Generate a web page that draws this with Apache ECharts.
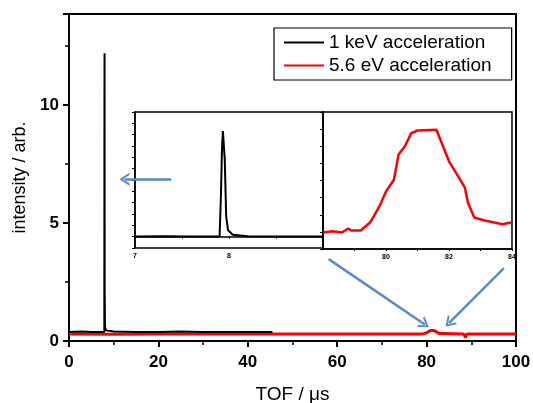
<!DOCTYPE html>
<html><head><meta charset="utf-8">
<script src="https://cdn.jsdelivr.net/npm/echarts@6/dist/echarts.min.js"></script>
<style>html,body{margin:0;padding:0;background:#fff}#c{width:533px;height:403px}</style>
</head><body><div id="c"></div>
<script>
// ---- data ----
const seriesNames = ['1 keV acceleration', '5.6 eV acceleration'];
// main chart: 1 keV (black)
const blackX = [0, 3, 5, 7.9, 7.93, 7.95, 7.98, 8.05, 8.3, 10, 15, 20, 25, 30, 35, 40, 45.5];
const blackY = [0.38, 0.4, 0.38, 0.38, 9.5, 12.2, 2.2, 0.6, 0.45, 0.4, 0.38, 0.38, 0.4, 0.38, 0.38, 0.38, 0.38];
// main chart: 5.6 eV (red)
const redX = [0, 10, 20, 30, 40, 50, 60, 70, 78, 78.3, 78.6, 78.8, 78.9, 79.2, 79.5, 79.8, 80.0, 80.25, 80.4, 80.6, 80.8, 81.0, 81.6, 81.75, 82.0, 82.2, 82.5, 82.6, 82.8, 83.1, 83.4, 83.7, 84.0, 88.3, 88.7, 89.0, 100];
const redY = [0.3, 0.29, 0.3, 0.3, 0.3, 0.3, 0.3, 0.3, 0.299, 0.301, 0.299, 0.305, 0.302, 0.302, 0.314, 0.338, 0.359, 0.376, 0.413, 0.425, 0.444, 0.448, 0.449, 0.432, 0.403, 0.388, 0.365, 0.343, 0.321, 0.317, 0.314, 0.311, 0.314, 0.3, 0.15, 0.3, 0.3];
// inset 1 (7-9 µs), black peak
const insetBX = [7.0, 7.3, 7.6, 7.9, 7.915, 7.925, 7.935, 7.945, 7.955, 7.97, 7.99, 8.04, 8.2, 8.6, 9.0];
const insetBY = [0.03, 0.05, 0.03, 0.03, 4.84, 9.57, 11.66, 11.5, 8.47, 2.23, 0.7, 0.21, 0.05, 0.03, 0.03];
// inset 2 (78-84 µs), red peak
const insetRX = redX.slice(8, 33);
const insetRY = redY.slice(8, 33);
// tick labels
const mainYLabels = [0, 5, 10];
const mainXLabels = [0, 20, 40, 60, 80, 100];
// arrows (data coordinates of main chart): [x1,y1,x2,y2]
const arrows = [[22.9, 6.86, 12.4, 6.86], [58.1, 3.47, 79.6, 0.7], [97.3, 3.09, 85.0, 0.76]];

const pair = (xs, ys) => xs.map((x, i) => [x, ys[i]]);
const chevron = 'path://M5,0 L10,8 L8.2,8 L5,2.8 L1.8,8 L0,8 Z';
const FONT = 'Liberation Sans';

const chart = echarts.init(document.getElementById('c'));
chart.setOption({
  animation: false,
  backgroundColor: '#fff',
  textStyle: { fontFamily: FONT },
  legend: {
    left: 274, top: 28, orient: 'vertical',
    data: seriesNames,
    icon: 'rect', itemWidth: 40, itemHeight: 2, itemGap: 4,
    padding: [5, 20, 5, 10],
    borderColor: '#000', borderWidth: 1.2,
    textStyle: { fontSize: 19, color: '#000', fontFamily: FONT }
  },
  grid: [
    { left: 69, right: 17, top: 14, bottom: 62, show: true, borderColor: '#000', borderWidth: 2, backgroundColor: 'transparent', outerBoundsMode: 'none', containLabel: false },
    { left: 135, top: 112, width: 188, height: 136, show: true, borderColor: '#000', borderWidth: 1.5, outerBoundsMode: 'none', containLabel: false },
    { left: 323, top: 112, width: 189, height: 137, show: true, borderColor: '#000', borderWidth: 1.5, outerBoundsMode: 'none', containLabel: false }
  ],
  xAxis: [
    { gridIndex: 0, type: 'value', min: 0, max: 100, interval: 20,
      name: 'TOF / μs', nameLocation: 'middle', nameGap: 44,
      nameTextStyle: { fontSize: 19, color: '#000', fontFamily: FONT },
      axisLine: { lineStyle: { color: '#000', width: 2 } },
      axisTick: { length: 6, lineStyle: { color: '#000', width: 2 } },
      minorTick: { show: true, splitNumber: 2, length: 4, lineStyle: { color: '#000', width: 1.5 } },
      splitLine: { show: false },
      axisLabel: { margin: 13, fontSize: 17, fontWeight: 'bold', color: '#000', fontFamily: FONT,
        formatter: v => mainXLabels.includes(v) ? String(v) : '' } },
    { gridIndex: 1, type: 'value', min: 7, max: 9, interval: 0.5,
      axisLine: { lineStyle: { color: '#000', width: 1.5 } },
      axisTick: { length: 2, lineStyle: { color: '#000', width: 1 } },
      splitLine: { show: false },
      axisLabel: { margin: 5, fontSize: 7, fontWeight: 'bold', color: '#000', showMaxLabel: false,
        formatter: v => Number.isInteger(v) ? String(v) : '' } },
    { gridIndex: 2, type: 'value', min: 78, max: 84, interval: 1,
      axisLine: { lineStyle: { color: '#000', width: 1.5 } },
      axisTick: { length: 2, lineStyle: { color: '#000', width: 1 } },
      splitLine: { show: false },
      axisLabel: { margin: 5, fontSize: 7, fontWeight: 'bold', color: '#000', showMinLabel: false,
        formatter: v => (v % 2 === 0) ? String(v) : '' } }
  ],
  yAxis: [
    { gridIndex: 0, type: 'value', min: 0, max: 13.86, interval: 5,
      name: 'intensity / arb.', nameLocation: 'middle', nameGap: 38,
      nameTextStyle: { fontSize: 18, color: '#000', fontFamily: FONT },
      axisLine: { lineStyle: { color: '#000', width: 2 } },
      axisTick: { length: 6, lineStyle: { color: '#000', width: 2 } },
      minorTick: { show: true, splitNumber: 2, length: 4, lineStyle: { color: '#000', width: 1.5 } },
      splitLine: { show: false },
      axisLabel: { margin: 10, fontSize: 17, fontWeight: 'bold', color: '#000', fontFamily: FONT, showMaxLabel: false,
        formatter: v => mainYLabels.includes(v) ? String(v) : '' } },
    { gridIndex: 1, type: 'value', min: -1.25, max: 13.75, interval: 1.25,
      axisLine: { lineStyle: { color: '#000', width: 1.5 } },
      axisTick: { length: 3, lineStyle: { color: '#000', width: 1 } },
      splitLine: { show: false }, axisLabel: { show: false } },
    { gridIndex: 2, type: 'value', min: 0.275, max: 0.475, interval: 0.025,
      axisLine: { lineStyle: { color: '#000', width: 1.5 } },
      axisTick: { length: 3, lineStyle: { color: '#000', width: 1 } },
      splitLine: { show: false }, axisLabel: { show: false } }
  ],
  series: [
    { name: seriesNames[1], type: 'line', xAxisIndex: 0, yAxisIndex: 0, data: pair(redX, redY),
      showSymbol: false, symbol: 'none', color: '#ff0000', lineStyle: { color: '#ff0000', width: 3 }, z: 2,
      markLine: { silent: true, symbol: ['none', chevron], symbolSize: [13, 10],
        lineStyle: { color: '#5a8ac6', width: 2.5, type: 'solid' }, label: { show: false },
        data: arrows.map(a => [{ coord: [a[0], a[1]] }, { coord: [a[2], a[3]] }]) } },
    { name: seriesNames[0], type: 'line', xAxisIndex: 0, yAxisIndex: 0, data: pair(blackX, blackY),
      showSymbol: false, symbol: 'none', color: '#000', lineStyle: { color: '#000', width: 2 }, z: 3 },
    { name: 'inset1', type: 'line', xAxisIndex: 1, yAxisIndex: 1, data: pair(insetBX, insetBY),
      showSymbol: false, symbol: 'none', lineStyle: { color: '#000', width: 2 } },
    { name: 'inset2', type: 'line', xAxisIndex: 2, yAxisIndex: 2, data: pair(insetRX, insetRY),
      showSymbol: false, symbol: 'none', lineStyle: { color: '#ff0000', width: 2.5 } }
  ]
});
</script></body></html>
